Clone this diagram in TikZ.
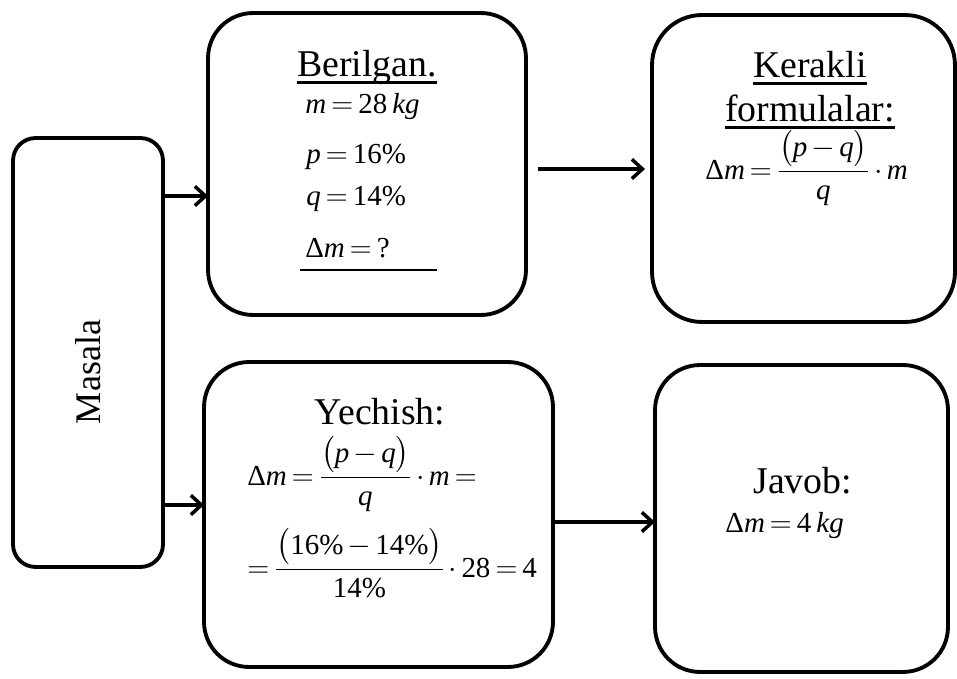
\documentclass[tikz,border=0pt]{standalone}
\usepackage{fontspec}
\setmainfont{Liberation Serif}
\usepackage{amsmath}
\usetikzlibrary{arrows.meta,calc}
\newcommand\myul[1]{\setbox0\hbox{#1}\rlap{\vrule height -2.4pt depth 3.8pt width\wd0}\box0}
\newcommand\vi[1]{\text{\itshape #1}}
\newcommand\vr[1]{\text{#1}}
\newcommand\dm{\vr{Δ}\vi{m}}
\thickmuskip=3mu plus 2mu
\medmuskip=2.5mu plus 1mu
\begin{document}
\begin{tikzpicture}[x=0.02cm,y=-0.02cm,
  box/.style={draw, line width=2.2pt, inner sep=0pt, outer sep=0pt},
  arr/.style={line width=2.2pt, -{Straight Barb[length=6pt,width=11pt,line width=2pt]}},
  head/.style={inner sep=0pt, font=\fontsize{21.5}{24}\selectfont},
  mth/.style={inner sep=0pt, font=\fontsize{16.5}{19}\selectfont}]
\useasboundingbox (0,0) rectangle (957,679);
% boxes
\node[box, rounded corners=0.45cm, minimum width=3cm, minimum height=8.58cm] (masala) at (88,352.5) {};
\node[box, rounded corners=0.9cm, minimum width=6.36cm, minimum height=6.04cm] (beril) at (367,164) {};
\node[box, rounded corners=1.0cm, minimum width=6.06cm, minimum height=6.14cm] (kerak) at (803.5,168.5) {};
\node[box, rounded corners=0.9cm, minimum width=6.98cm, minimum height=6.1cm] (yech) at (378.5,514.5) {};
\node[box, rounded corners=0.9cm, minimum width=5.86cm, minimum height=6.14cm] (javob) at (801.5,518.5) {};
% texts
\node[head, rotate=90, font=\fontsize{20.5}{24}\selectfont] (tm) at (88,372) {Masala};
\node[head, anchor=base] (tb) at (367,77) {\myul{Berilgan.}};
\node[mth, anchor=base west] (tb1) at (305,113) {$\vi{m} = \vr{28}\,\vi{kg}$};
\node[mth, anchor=base west] (tb2) at (306,163) {$\vi{p} =\vr{16\%}$};
\node[mth, anchor=base west] (tb3) at (306,205) {$\vi{q} =\vr{14\%}$};
\node[mth, anchor=base west] (tb4) at (305,257) {$\dm = \vr{?}$};
\draw[line width=1.6pt] (300,270) -- (437,270);
\node[head, anchor=base] (tk1) at (810,78) {\myul{Kerakli}};
\node[head, anchor=base] (tk2) at (810,122) {\myul{formulalar:}};
\node[mth, anchor=base west] (tk3) at (705,179) {$\dm = \dfrac{\bigl(\vi{p}-\vi{q}\bigr)}{\vi{q}}\cdot \vi{m}$};
\node[head, anchor=base] (ty) at (380,424) {Yechish:};
\node[mth, anchor=base west] (ty1) at (247,485) {$\dm = \dfrac{\bigl(\vi{p}-\vi{q}\bigr)}{\vi{q}}\cdot \vi{m} =$};
\node[mth, anchor=base west] (ty2) at (247,577) {$= \dfrac{\bigl(\vr{16\%} - \vr{14\%}\bigr)}{\vr{14\%}}\cdot \vr{28} = \vr{4}$};
\node[head, anchor=base west] (tj) at (753,493) {Javob:};
\node[mth, anchor=base west] (tj1) at (725,532) {$\dm = \vr{4}\,\vi{kg}$};
% arrows
\draw[arr] (masala.east |- 0,196) -- (beril.west |- 0,196);
\draw[arr] (masala.east |- 0,505) -- (yech.west |- 0,505);
\draw[arr] ($(beril.east |- 0,169)+(12,0)$) -- ($(kerak.west |- 0,169)+(-7,0)$);
\draw[arr] (yech.east |- 0,522) -- (javob.west |- 0,522);
\end{tikzpicture}
\end{document}
